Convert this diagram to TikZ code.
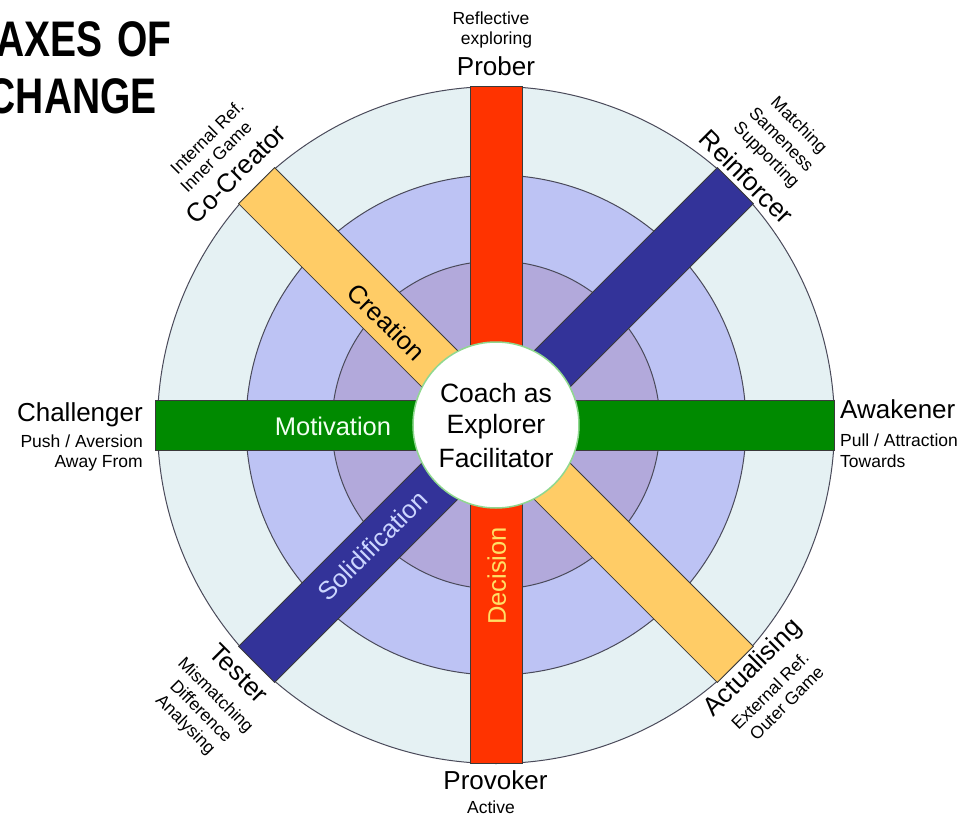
\documentclass[tikz,border=0pt]{standalone}
\usepackage{fontspec}
\setmainfont{Liberation Sans}
\usepackage{graphicx}
\definecolor{outerc}{HTML}{E5F1F3}
\definecolor{midc}{HTML}{BDC3F4}
\definecolor{innerc}{HTML}{B2A9DB}
\definecolor{redc}{HTML}{FF3300}
\definecolor{greenc}{HTML}{008A00}
\definecolor{yellowc}{HTML}{FFCC66}
\definecolor{bluec}{HTML}{333399}
\definecolor{ringline}{HTML}{4A4A5A}
\definecolor{barline}{HTML}{3A3A3A}
\definecolor{hubline}{HTML}{8FD88F}
\definecolor{dectext}{HTML}{FFE066}
\definecolor{soltext}{HTML}{CCD6FF}
\definecolor{mottext}{HTML}{F2FFF2}
\begin{document}
\begin{tikzpicture}[x=1pt,y=1pt,
  ring/.style={draw=ringline, line width=1pt},
  bar/.style={draw=barline, line width=0.8pt},
  big/.style={font=\fontsize{26}{30}\selectfont, inner sep=0pt},
  hubtext/.style={font=\fontsize{26.5}{32}\selectfont, inner sep=0pt},
  small/.style={font=\fontsize{17.5}{21}\selectfont, inner sep=0pt},
  bartext/.style={font=\fontsize{25.5}{30}\selectfont, inner sep=0pt},
  titletext/.style={font=\fontsize{50}{60}\selectfont\bfseries, inner sep=0pt, anchor=base east}]
\useasboundingbox (-496,-390) rectangle (466,425);
\fill[white] (-496,-390) rectangle (466,425);

% rings
\draw[ring, fill=outerc] (0,0) circle (338.5);
\draw[ring, fill=midc] (0,0) circle (250);
\draw[ring, fill=innerc] (0,0) circle (164);

% bars
\draw[bar, fill=redc] (-26,-338.5) rectangle (26,338.5);
\draw[bar, fill=greenc] (-341,-25) rectangle (338,25);
\draw[bar, fill=yellowc, rotate=-45] (-338.5,-25.5) rectangle (338.5,25.5);
\draw[bar, fill=bluec, rotate=45] (-338.5,-25.5) rectangle (338.5,25.5);

% hub
\node[circle, draw=hubline, fill=white, line width=1.5pt, minimum size=166pt, inner sep=0pt] (hub) at (0,0) {};
\node[hubtext, anchor=base] (coach) at (0,23) {Coach as};
\node[hubtext, anchor=base] (explorer) at (0,-8) {Explorer};
\node[hubtext, anchor=base] (facil) at (0,-42) {Facilitator};

% bar texts
\node[bartext, rotate=-45] (creation) at (-109.5,102.5) {Creation};
\node[bartext, text=mottext] (motivation) at (-163,-1) {Motivation};
\node[bartext, text=soltext, rotate=45] (solid) at (-123.5,-120.8) {Solidification};
\node[bartext, text=dectext, rotate=90] (decision) at (0.7,-151) {Decision};

% title
\node[titletext] (title1) at (-324,368) {\scalebox{0.78}[1]{AXES\hspace{5pt} OF}};
\node[titletext] (title2) at (-339,312) {\scalebox{0.78}[1]{CHANGE}};

% top
\node[big, anchor=base] (prober) at (0,349) {Prober};
\node[small, anchor=base] (exploring) at (0.5,380) {exploring};
\node[small, anchor=base] (reflective) at (-5,400) {Reflective};

% bottom
\node[big, anchor=base] (provoker) at (-0.5,-364) {Provoker};
\node[small, anchor=base] (active) at (-5,-388) {Active};

% left
\node[big, anchor=base east] (challenger) at (-353,4) {Challenger};
\node[small, anchor=base east] (push) at (-353,-22) {Push / Aversion};
\node[small, anchor=base east] (away) at (-353,-42) {Away From};

% right
\node[big, anchor=base west] (awakener) at (344,7) {Awakener};
\node[small, anchor=base west] (pull) at (344,-21) {Pull / Attraction};
\node[small, anchor=base west] (towards) at (344,-42) {Towards};

% upper left
\node[big, rotate=45] (cocreator) at (-260,251) {Co-Creator};
\node[small, rotate=45] (innergame) at (-280,268) {Inner Game};
\node[small, rotate=45] (internalref) at (-289,288) {Internal Ref.};

% upper right
\node[big, rotate=-45] (reinforcer) at (250.7,248.3) {Reinforcer};
\node[small, rotate=-45] (supporting) at (269.7,269.3) {Supporting};
\node[small, rotate=-45] (sameness) at (285.7,286) {Sameness};
\node[small, rotate=-45] (matching) at (302.3,299.3) {Matching};

% lower left
\node[big, rotate=-45] (tester) at (-257,-248.3) {Tester};
\node[small, rotate=-45] (mismatching) at (-281,-270.7) {Mismatching};
\node[small, rotate=-45] (difference) at (-294.3,-285.7) {Difference};
\node[small, rotate=-45] (analysing) at (-311,-300) {Analysing};

% lower right
\node[big, rotate=45] (actualising) at (257.3,-243.3) {Actualising};
\node[small, rotate=45] (externalref) at (274,-265.7) {External Ref.};
\node[small, rotate=45] (outergame) at (290.7,-278.3) {Outer Game};
\end{tikzpicture}
\end{document}
